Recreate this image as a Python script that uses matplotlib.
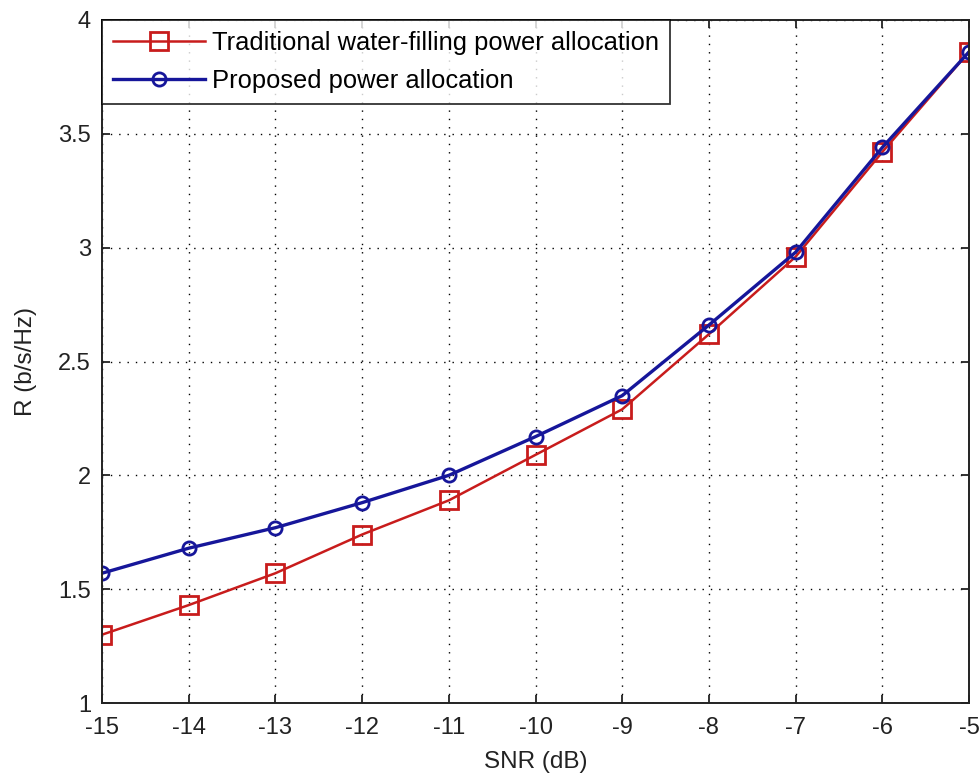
import matplotlib
matplotlib.use("Agg")
import matplotlib.pyplot as plt

plt.rcParams['font.family'] = ['Liberation Sans', 'DejaVu Sans']

snr_db = [-15, -14, -13, -12, -11, -10, -9, -8, -7, -6, -5]
rate_waterfilling = [1.30, 1.43, 1.57, 1.74, 1.89, 2.09, 2.29, 2.62, 2.96, 3.42, 3.86]
rate_proposed = [1.57, 1.68, 1.77, 1.88, 2.00, 2.17, 2.35, 2.66, 2.98, 3.44, 3.86]

x_ticks = [-15, -14, -13, -12, -11, -10, -9, -8, -7, -6, -5]
y_ticks = [1, 1.5, 2, 2.5, 3, 3.5, 4]
y_tick_labels = ["1", "1.5", "2", "2.5", "3", "3.5", "4"]

fig = plt.figure(figsize=(9.8, 7.78), dpi=100)
ax = fig.add_axes([102 / 980, 1 - 703 / 778, (969 - 102) / 980, (703 - 20) / 778])

ax.plot(snr_db, rate_waterfilling, color='#c81c1c', lw=1.8, marker='s',
        markersize=12.5, markerfacecolor='none', markeredgewidth=2.0,
        label='Traditional water-filling power allocation')
ax.plot(snr_db, rate_proposed, color='#16169a', lw=2.4, marker='o',
        markersize=9.5, markerfacecolor='none', markeredgewidth=2.0,
        label='Proposed power allocation')

ax.set_xlim(-15, -5)
ax.set_ylim(1, 4)
ax.set_xticks(x_ticks)
ax.set_xticklabels([str(t) for t in x_ticks])
ax.set_yticks(y_ticks)
ax.set_yticklabels(y_tick_labels)

ax.grid(True, color='black', linestyle=(0, (1, 5)), linewidth=1.0)
ax.tick_params(direction='in', length=6, width=1.3, labelsize=17,
               top=True, right=True, colors='#222222')
ax.tick_params(axis='x', pad=10)
ax.tick_params(axis='y', pad=8)
for s in ax.spines.values():
    s.set_linewidth(1.4)
    s.set_color('#222222')

ax.set_xlabel('SNR (dB)', fontsize=17.5, labelpad=9, color='#222222')
ax.set_ylabel('R (b/s/Hz)', fontsize=17.5, labelpad=15, color='#222222')

leg = ax.legend(loc='upper left', fontsize=18.4, frameon=True, fancybox=False,
                edgecolor='black', borderaxespad=0.0, handlelength=3.6,
                handletextpad=0.3, borderpad=0.42, labelspacing=0.55)
leg.get_frame().set_linewidth(1.3)

fig.savefig('out.png', dpi=100)
